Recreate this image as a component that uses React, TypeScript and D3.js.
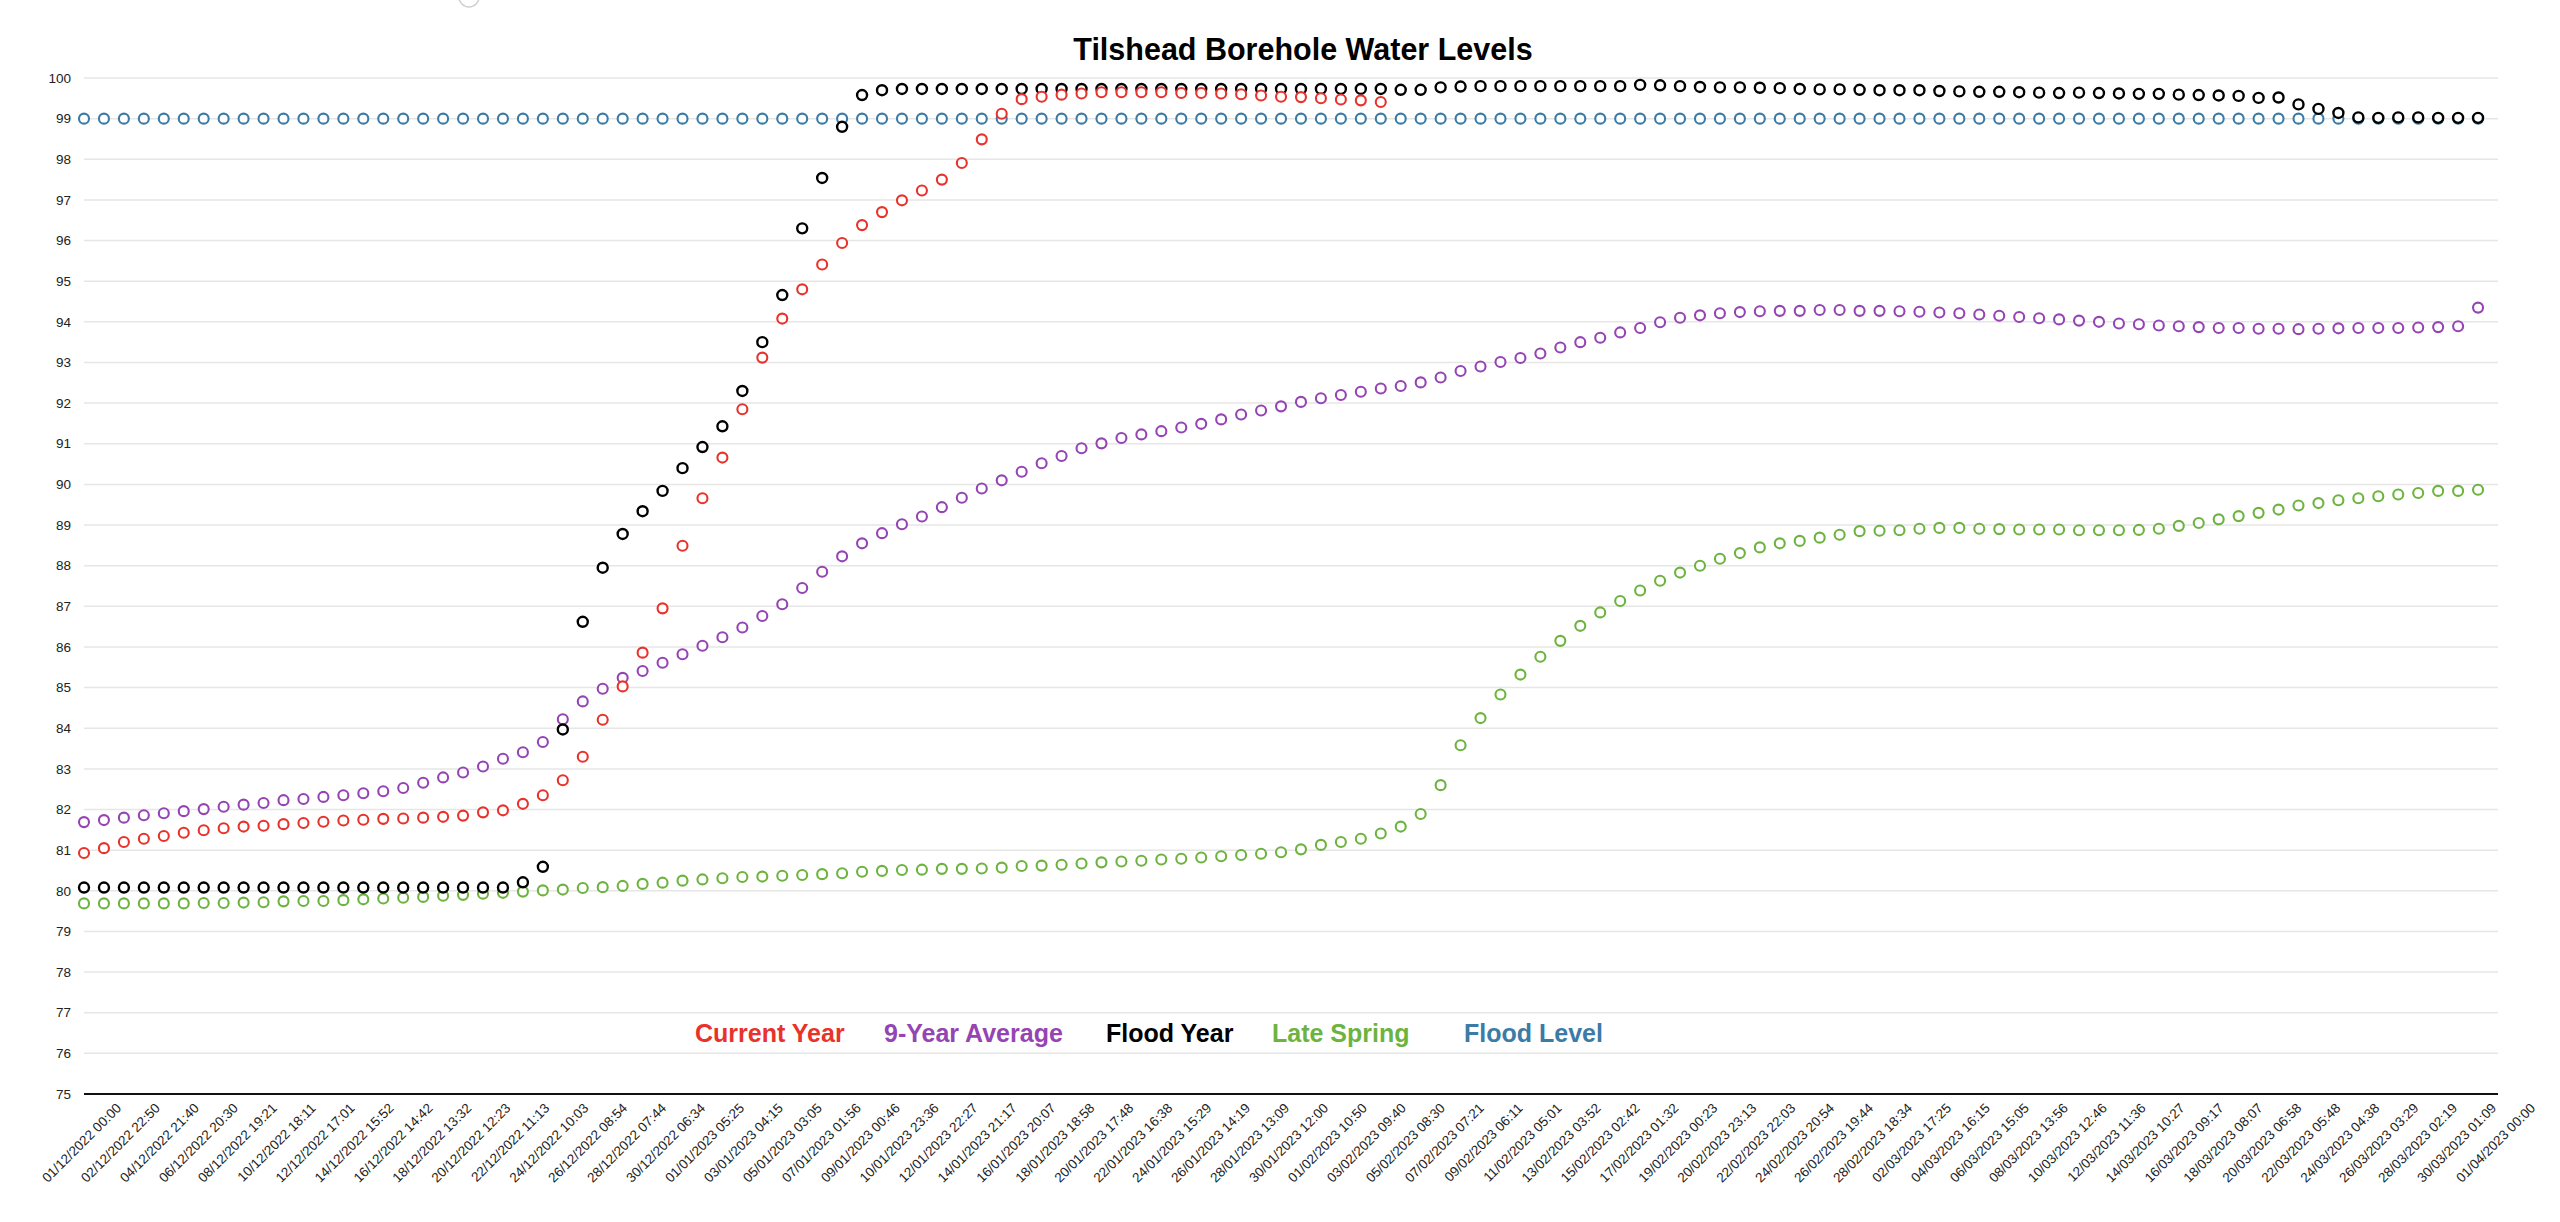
import React from "react";
import * as d3 from "d3";

// ---------- data ----------
const START = "01/12/2022 00:00";
const END = "01/04/2023 00:00";

const tickLabels = [
  "01/12/2022 00:00", "02/12/2022 22:50", "04/12/2022 21:40", "06/12/2022 20:30", "08/12/2022 19:21",
  "10/12/2022 18:11", "12/12/2022 17:01", "14/12/2022 15:52", "16/12/2022 14:42", "18/12/2022 13:32",
  "20/12/2022 12:23", "22/12/2022 11:13", "24/12/2022 10:03", "26/12/2022 08:54", "28/12/2022 07:44",
  "30/12/2022 06:34", "01/01/2023 05:25", "03/01/2023 04:15", "05/01/2023 03:05", "07/01/2023 01:56",
  "09/01/2023 00:46", "10/01/2023 23:36", "12/01/2023 22:27", "14/01/2023 21:17", "16/01/2023 20:07",
  "18/01/2023 18:58", "20/01/2023 17:48", "22/01/2023 16:38", "24/01/2023 15:29", "26/01/2023 14:19",
  "28/01/2023 13:09", "30/01/2023 12:00", "01/02/2023 10:50", "03/02/2023 09:40", "05/02/2023 08:30",
  "07/02/2023 07:21", "09/02/2023 06:11", "11/02/2023 05:01", "13/02/2023 03:52", "15/02/2023 02:42",
  "17/02/2023 01:32", "19/02/2023 00:23", "20/02/2023 23:13", "22/02/2023 22:03", "24/02/2023 20:54",
  "26/02/2023 19:44", "28/02/2023 18:34", "02/03/2023 17:25", "04/03/2023 16:15", "06/03/2023 15:05",
  "08/03/2023 13:56", "10/03/2023 12:46", "12/03/2023 11:36", "14/03/2023 10:27", "16/03/2023 09:17",
  "18/03/2023 08:07", "20/03/2023 06:58", "22/03/2023 05:48", "24/03/2023 04:38", "26/03/2023 03:29",
  "28/03/2023 02:19", "30/03/2023 01:09", "01/04/2023 00:00",
];

const yTicks = [75, 76, 77, 78, 79, 80, 81, 82, 83, 84, 85, 86, 87, 88, 89, 90, 91, 92, 93, 94, 95, 96, 97, 98, 99, 100];

const seriesNames = ["Current Year", "9-Year Average", "Flood Year", "Late Spring", "Flood Level"];
const seriesColors = ["#e8322b", "#9544b3", "#000000", "#6db33f", "#3b7ba6"];

// daily readings starting 01/12/2022
const currentYear = [
  80.93, 81.05, 81.2, 81.28, 81.35, 81.43, 81.49, 81.54, 81.58, 81.6,
  81.64, 81.67, 81.7, 81.73, 81.75, 81.77, 81.78, 81.8, 81.82, 81.85,
  81.93, 81.98, 82.14, 82.35, 82.72, 83.3, 84.21, 85.03, 85.86, 86.95,
  88.49, 89.66, 90.66, 91.85, 93.12, 94.08, 94.8, 95.41, 95.94, 96.38,
  96.7, 96.99, 97.23, 97.5, 97.91, 98.49, 99.12, 99.48, 99.54, 99.59,
  99.62, 99.65, 99.65, 99.65, 99.65, 99.63, 99.63, 99.62, 99.6, 99.57,
  99.54, 99.53, 99.5, 99.47, 99.45, 99.41,
];

const nineYearAverage = [
  81.69, 81.74, 81.8, 81.86, 81.91, 81.96, 82.01, 82.07, 82.12, 82.16,
  82.23, 82.26, 82.31, 82.35, 82.4, 82.45, 82.53, 82.66, 82.79, 82.91,
  83.06, 83.25, 83.41, 83.66, 84.22, 84.66, 84.97, 85.24, 85.41, 85.61,
  85.82, 86.03, 86.24, 86.48, 86.76, 87.05, 87.45, 87.85, 88.23, 88.55,
  88.8, 89.02, 89.21, 89.44, 89.67, 89.9, 90.1, 90.31, 90.52, 90.7,
  90.89, 91.01, 91.14, 91.23, 91.31, 91.4, 91.49, 91.6, 91.72, 91.82,
  91.92, 92.03, 92.12, 92.2, 92.28, 92.36, 92.42, 92.51, 92.63, 92.79,
  92.9, 93.01, 93.11, 93.22, 93.37, 93.5, 93.61, 93.74, 93.85, 93.99,
  94.1, 94.16, 94.21, 94.24, 94.26, 94.27, 94.27, 94.29, 94.29, 94.27,
  94.27, 94.26, 94.25, 94.23, 94.21, 94.18, 94.15, 94.12, 94.09, 94.06,
  94.03, 94.0, 93.96, 93.94, 93.91, 93.89, 93.87, 93.85, 93.85, 93.83,
  93.83, 93.82, 93.83, 93.84, 93.85, 93.85, 93.85, 93.86, 93.87, 93.89,
  94.35,
];

const floodYear = [
  80.08, 80.08, 80.08, 80.08, 80.08, 80.08, 80.08, 80.08, 80.08, 80.08,
  80.08, 80.08, 80.08, 80.08, 80.08, 80.08, 80.08, 80.08, 80.08, 80.08,
  80.08, 80.08, 80.21, 80.59, 83.97, 86.62, 87.95, 88.78, 89.34, 89.84,
  90.4, 90.92, 91.43, 92.3, 93.5, 94.66, 96.3, 97.54, 98.8, 99.58,
  99.7, 99.73, 99.73, 99.73, 99.73, 99.73, 99.73, 99.73, 99.73, 99.73,
  99.73, 99.73, 99.73, 99.73, 99.73, 99.73, 99.73, 99.73, 99.73, 99.73,
  99.73, 99.73, 99.73, 99.73, 99.73, 99.73, 99.71, 99.71, 99.77, 99.79,
  99.8, 99.8, 99.8, 99.8, 99.8, 99.8, 99.8, 99.8, 99.83, 99.82,
  99.8, 99.78, 99.77, 99.77, 99.76, 99.75, 99.73, 99.72, 99.72, 99.71,
  99.7, 99.7, 99.7, 99.68, 99.67, 99.66, 99.66, 99.65, 99.64, 99.63,
  99.64, 99.63, 99.62, 99.61, 99.61, 99.59, 99.58, 99.57, 99.56, 99.51,
  99.52, 99.35, 99.24, 99.14, 99.03, 99.02, 99.03, 99.03, 99.02, 99.02,
  99.02,
];

const lateSpring = [
  79.69, 79.69, 79.69, 79.69, 79.69, 79.69, 79.7, 79.7, 79.71, 79.72,
  79.74, 79.75, 79.75, 79.77, 79.79, 79.81, 79.83, 79.85, 79.88, 79.9,
  79.93, 79.95, 79.98, 80.01, 80.03, 80.07, 80.09, 80.12, 80.17, 80.2,
  80.25, 80.28, 80.31, 80.34, 80.35, 80.37, 80.39, 80.41, 80.43, 80.47,
  80.49, 80.51, 80.52, 80.54, 80.54, 80.55, 80.57, 80.61, 80.62, 80.64,
  80.67, 80.7, 80.72, 80.74, 80.77, 80.79, 80.82, 80.85, 80.88, 80.91,
  80.95, 81.02, 81.13, 81.2, 81.28, 81.41, 81.58, 81.89, 82.6, 83.58,
  84.25, 84.83, 85.32, 85.76, 86.15, 86.52, 86.85, 87.13, 87.39, 87.63,
  87.83, 88.0, 88.17, 88.31, 88.45, 88.55, 88.61, 88.69, 88.76, 88.85,
  88.86, 88.87, 88.91, 88.93, 88.93, 88.91, 88.9, 88.89, 88.89, 88.89,
  88.87, 88.87, 88.87, 88.88, 88.91, 88.98, 89.05, 89.14, 89.22, 89.3,
  89.38, 89.48, 89.54, 89.61, 89.66, 89.71, 89.75, 89.79, 89.84, 89.84,
  89.87,
];

const floodLevel = [
  99, 99, 99, 99, 99, 99, 99, 99, 99, 99, 99, 99, 99, 99, 99, 99, 99, 99, 99, 99,
  99, 99, 99, 99, 99, 99, 99, 99, 99, 99, 99, 99, 99, 99, 99, 99, 99, 99, 99, 99,
  99, 99, 99, 99, 99, 99, 99, 99, 99, 99, 99, 99, 99, 99, 99, 99, 99, 99, 99, 99,
  99, 99, 99, 99, 99, 99, 99, 99, 99, 99, 99, 99, 99, 99, 99, 99, 99, 99, 99, 99,
  99, 99, 99, 99, 99, 99, 99, 99, 99, 99, 99, 99, 99, 99, 99, 99, 99, 99, 99, 99,
  99, 99, 99, 99, 99, 99, 99, 99, 99, 99, 99, 99, 99, 99, 99, 99, 99, 99, 99, 99,
  99,
];

// ---------- layout ----------
const W = 2560;
const H = 1222;
const PLOT = { left: 84, right: 2498, top: 78, bottom: 1094 };
const FONT = "'Liberation Sans', Arial, Helvetica, sans-serif";
const legendX = [695, 884, 1106, 1272, 1464];

const parse = d3.timeParse("%d/%m/%Y %H:%M");

export default function App() {
  const start = parse(START) as Date;
  const end = parse(END) as Date;
  const x = d3.scaleTime().domain([start, end]).range([PLOT.left, PLOT.right]);
  const y = d3.scaleLinear().domain([75, 100]).range([PLOT.bottom, PLOT.top]);

  const allSeries = [currentYear, nineYearAverage, floodYear, lateSpring, floodLevel];
  // draw order: flood level beneath, current year on top
  const drawOrder = [4, 3, 1, 2, 0];

  return (
    <svg
      width={W}
      height={H}
      style={{ position: "absolute", left: 0, top: 0, background: "#fff" }}
      fontFamily={FONT}
    >
      <rect x={0} y={0} width={W} height={H} fill="#fff" />
      <circle cx={469} cy={-3} r={10} fill="#fff" stroke="#cfcfcf" strokeWidth={1.5} />

      <text x={1303} y={60} textAnchor="middle" fontWeight="bold" fontSize={30.5} fill="#000">
        Tilshead Borehole Water Levels
      </text>

      {/* grid */}
      {yTicks.map((t) =>
        t === 75 ? null : (
          <line
            key={"g" + t}
            x1={PLOT.left}
            x2={PLOT.right}
            y1={y(t)}
            y2={y(t)}
            stroke="#e6e6e6"
            strokeWidth={1.5}
          />
        )
      )}
      {yTicks.map((t) => (
        <text key={"yt" + t} x={71} y={y(t)} dy="0.35em" textAnchor="end" fontSize={13.5} fill="#222">
          {t}
        </text>
      ))}
      <line x1={PLOT.left} x2={PLOT.right} y1={y(75)} y2={y(75)} stroke="#111" strokeWidth={2} />

      {tickLabels.map((lab, i) => {
        const tx = x(parse(lab) as Date) + 38;
        const ty = y(75) + 15;
        return (
          <text
            key={"xt" + i}
            transform={`translate(${tx},${ty}) rotate(-45)`}
            textAnchor="end"
            fontSize={13.5}
            fill="#222"
          >
            {lab}
          </text>
        );
      })}

      {/* points */}
      {drawOrder.map((si) => (
        <g key={"s" + si}>
          {allSeries[si].map((v, i) => (
            <circle
              key={i}
              cx={x(d3.timeDay.offset(start, i))}
              cy={y(v)}
              r={5}
              fill="#fff"
              stroke={seriesColors[si]}
              strokeWidth={si === 2 ? 2.4 : 2.1}
            />
          ))}
        </g>
      ))}

      {/* legend */}
      {seriesNames.map((n, i) => (
        <text key={"l" + i} x={legendX[i]} y={1042} fontWeight="bold" fontSize={25} fill={seriesColors[i]}>
          {n}
        </text>
      ))}
    </svg>
  );
}
